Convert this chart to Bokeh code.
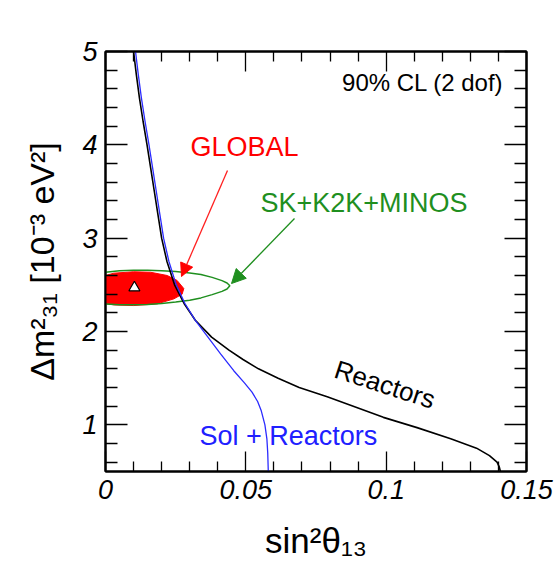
import math
from bokeh.plotting import figure
from bokeh.models import (Range1d, LinearAxis, FixedTicker, Label,
                          Arrow, NormalHead, CustomJSTickFormatter)
from bokeh.embed import file_html
from bokeh.resources import INLINE

# ---------------- data ----------------
# Reactors 90% CL boundary (black)
reactor_y = [5.00, 4.75, 4.50, 4.25, 4.00, 3.75, 3.50, 3.25, 3.00, 2.75, 2.50, 2.30,
             2.12, 1.94, 1.80, 1.70, 1.60, 1.50, 1.40, 1.30, 1.21, 1.08, 0.97, 0.85,
             0.75, 0.67, 0.60, 0.55, 0.50]
reactor_x = [0.0100, 0.0110, 0.0121, 0.0134, 0.0148, 0.0161, 0.0174, 0.0187, 0.0200,
             0.0219, 0.0246, 0.0280, 0.0320, 0.0378, 0.0440, 0.0490, 0.0545, 0.0615,
             0.0690, 0.0790, 0.0873, 0.0990, 0.1110, 0.1230, 0.1322, 0.1368, 0.1395,
             0.1403, 0.1407]

# Sol + Reactors boundary (blue)
sol_y = [5.00, 4.75, 4.50, 4.25, 4.00, 3.75, 3.50, 3.25, 3.00, 2.75, 2.50, 2.30,
         2.12, 1.94, 1.76, 1.58, 1.45, 1.35, 1.25, 1.15, 1.00, 0.85, 0.70, 0.50]
sol_x = [0.0107, 0.0117, 0.0128, 0.0141, 0.0155, 0.0168, 0.0181, 0.0194, 0.0207,
         0.0226, 0.0252, 0.0283, 0.0320, 0.0365, 0.0410, 0.0457, 0.0495, 0.0522,
         0.0542, 0.0555, 0.0568, 0.0575, 0.0578, 0.0580]

# SK+K2K+MINOS contour (green)
atm_x = [0.0, 0.005, 0.010, 0.015, 0.020, 0.025, 0.030, 0.034, 0.038, 0.0415, 0.0433, 0.0443,
         0.0433, 0.0415, 0.038, 0.034, 0.030, 0.025, 0.020, 0.015, 0.010, 0.005, 0.0]
atm_y = [2.635, 2.652, 2.657, 2.657, 2.652, 2.643, 2.628, 2.610, 2.580, 2.545, 2.52, 2.49,
         2.455, 2.43, 2.395, 2.36, 2.335, 2.315, 2.30, 2.29, 2.287, 2.287, 2.295]

# GLOBAL region (red, filled)
glob_x = [0.0, 0.003, 0.010, 0.016, 0.022, 0.0255, 0.0279, 0.0273, 0.0244, 0.0184, 0.010, 0.003, 0.0]
glob_y = [2.60, 2.625, 2.64, 2.635, 2.60, 2.547, 2.46, 2.40, 2.35, 2.296, 2.278, 2.285, 2.30]

# best fit point
best_x = [0.0103]
best_y = [2.47]

# ticks
x_major = [0.0, 0.05, 0.1, 0.15]
x_minor = [0.01, 0.02, 0.03, 0.04, 0.06, 0.07, 0.08, 0.09, 0.11, 0.12, 0.13, 0.14]
x_labels = {0.0: "0", 0.05: "0.05", 0.1: "0.1", 0.15: "0.15"}
y_major = [1, 2, 3, 4, 5]
y_minor = [0.6, 0.8, 1.2, 1.4, 1.6, 1.8, 2.2, 2.4, 2.6, 2.8, 3.2, 3.4, 3.6, 3.8,
           4.2, 4.4, 4.6, 4.8]

x_title = "sin\u00b2\u03b8\u2081\u2083"
y_title = "\u0394m\u00b2\u2083\u2081 [10\u207b\u00b3 eV\u00b2]"

# ---------------- layout ----------------
W, H = 556, 568
L, R, T, B = 105, 30, 51, 97
X0, X1 = 0.0, 0.15
Y0, Y1 = 0.5, 5.0
FW, FH = W - L - R, H - T - B


def fx(px):
    return X0 + (px - L) / FW * (X1 - X0)


def fy(py):
    return Y1 - (py - T) / FH * (Y1 - Y0)


p = figure(width=W, height=H, output_backend="svg", toolbar_location=None,
           x_range=Range1d(X0, X1), y_range=Range1d(Y0, Y1),
           x_axis_type=None, y_axis_type=None,
           min_border_left=L, min_border_right=R, min_border_top=T, min_border_bottom=B)
p.xgrid.visible = False
p.ygrid.visible = False
p.outline_line_color = "black"
p.outline_line_width = 2
p.background_fill_color = "white"
p.border_fill_color = "white"

FONT = "Liberation Sans"


def make_axis(kind, labels, title=None):
    if kind == "x":
        tk = FixedTicker(ticks=x_major, minor_ticks=x_minor)
        mj, mn = 20, 10
    else:
        tk = FixedTicker(ticks=y_major, minor_ticks=y_minor)
        mj, mn = 22, 12
    ax = LinearAxis(ticker=tk, axis_line_color="black", axis_line_width=2,
                    major_tick_in=mj, major_tick_out=0, minor_tick_in=mn, minor_tick_out=0,
                    major_tick_line_color="black", minor_tick_line_color="black",
                    major_tick_line_width=1.3, minor_tick_line_width=1.3)
    if labels:
        ax.major_label_text_font = FONT
        ax.major_label_text_font_style = "italic"
        ax.major_label_text_font_size = "27px"
        ax.major_label_text_color = "black"
        ax.major_label_standoff = 8
        if kind == "x":
            ax.major_label_overrides = x_labels
    else:
        ax.formatter = CustomJSTickFormatter(code="return ''")
        ax.major_label_text_font_size = "1px"
        ax.major_label_standoff = 0
    if title is not None:
        ax.axis_label = title
        ax.axis_label_text_font = FONT
        ax.axis_label_text_font_style = "normal"
        ax.axis_label_text_font_size = "35px" if kind == "x" else "34px"
        ax.axis_label_text_color = "black"
        ax.axis_label_standoff = 19 if kind == "x" else 18
    return ax


p.add_layout(make_axis("x", True, x_title), "below")
p.add_layout(make_axis("x", False), "above")
p.add_layout(make_axis("y", True, y_title), "left")
p.add_layout(make_axis("y", False), "right")

# ---------------- glyphs ----------------
p.patch(glob_x, glob_y, fill_color="#ff0000", line_color="#ff0000", line_width=1)
p.line(atm_x, atm_y, line_color="#1f8f1f", line_width=1.5)
p.line(reactor_x, reactor_y, line_color="black", line_width=1.6)
p.line(sol_x, sol_y, line_color="#2b2bff", line_width=1.3)
p.scatter(best_x, best_y, marker="triangle", size=11, fill_color="white",
          line_color="black", line_width=1.2)

# arrows
p.add_layout(Arrow(x_start=fx(227), y_start=fy(170), x_end=fx(181), y_end=fy(276),
                   line_color="#ff2020", line_width=1.3,
                   end=NormalHead(size=13, fill_color="#ff0000", line_color="#ff0000")))
p.add_layout(Arrow(x_start=fx(294), y_start=fy(218), x_end=fx(231), y_end=fy(283),
                   line_color="#1f8f1f", line_width=1.3,
                   end=NormalHead(size=14, fill_color="#1f8f1f", line_color="#1f8f1f")))

BASE_SHIFT = 0.37  # empirical baseline correction (in em)


def lab(text, px, py, size, color="black", angle=0.0, align="left"):
    d = BASE_SHIFT * size
    px = px - d * math.sin(angle)
    py = py - d * math.cos(angle)
    p.add_layout(Label(x=fx(px), y=fy(py), text=text, text_font=FONT,
                       text_font_size=f"{size}px", text_color=color,
                       text_align=align, text_baseline="alphabetic", angle=angle))


lab("GLOBAL", 190, 156, 27, "#ff0000")
lab("SK+K2K+MINOS", 260, 212, 27, "#1f8f1f")
lab("90% CL (2 dof)", 503, 91, 24, "black", align="right")
lab("Reactors", 332, 377, 26, "black", angle=math.radians(-18))
lab("Sol + Reactors", 199, 445, 27, "#2020ff")

open("out.html", "w").write(file_html(p, INLINE))
